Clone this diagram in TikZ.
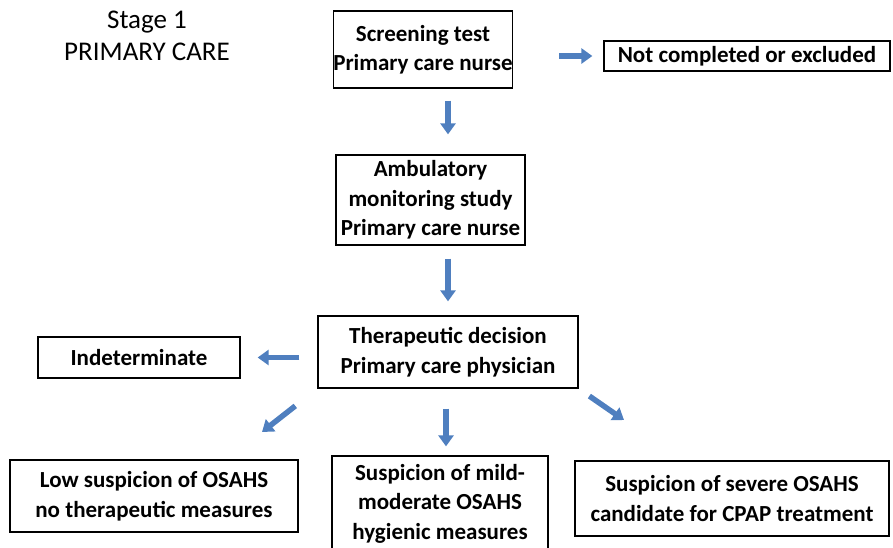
\documentclass[tikz,border=0pt]{standalone}
\usepackage{fontspec}
\setmainfont{Carlito}
\usetikzlibrary{arrows.meta}
\definecolor{arrowblue}{HTML}{4F7FBF}
\tikzset{
  stepbox/.style={draw, line width=1.3pt, align=center, inner sep=0pt, font=\bfseries\fontsize{23}{29.5}\selectfont},
  blockarrow/.style={line width=5.5pt, arrowblue, -{Triangle[width=15pt,length=11pt]}},
}
\begin{document}
\begin{tikzpicture}[x=1pt,y=-1pt]
    \useasboundingbox (0,0) rectangle (893,547);
    \node [align=center, font=\fontsize{27}{32}\selectfont] (StageLabel) at (147,36) {Stage 1\\PRIMARY CARE};
    \node [stepbox, minimum width=174pt, minimum height=77pt] (Screening)    at (423,49.5)  {Screening test\\Primary care nurse};
    \node [stepbox, minimum width=286pt, minimum height=30pt] (NotCompleted) at (747,56)    {Not completed or excluded};
    \node [stepbox, minimum width=189pt, minimum height=90pt] (Ambulatory)   at (430.5,200) {Ambulatory\\monitoring study\\Primary care nurse};
    \node [stepbox, minimum width=260pt, minimum height=72pt] (Therapeutic)  at (448,352)   {Therapeutic decision\\Primary care physician};
    \node [stepbox, minimum width=202pt, minimum height=41pt] (Indeterminate) at (139,357.5) {Indeterminate};
    \node [stepbox, minimum width=288pt, minimum height=72pt] (LowSuspicion) at (154,496)   {Low suspicion of OSAHS\\no therapeutic measures};
    \node [stepbox, minimum width=216pt, minimum height=95pt] (MildSuspicion) at (440,503.5) {Suspicion of mild-\\moderate OSAHS\\hygienic measures};
    \node [stepbox, minimum width=314pt, minimum height=75pt] (SevereSuspicion) at (732,498.5) {Suspicion of severe OSAHS\\candidate for CPAP treatment};
    \coordinate (LowEnd)    at (262,432);
    \coordinate (SevereEnd) at (624,420);
    \draw [blockarrow, shorten <=46pt, shorten >=11pt] (Screening.east |- NotCompleted) -- (NotCompleted.west);% excluded
    \draw [blockarrow, shorten <=12pt, shorten >=20pt] (Screening.south -| Therapeutic) -- (Ambulatory.north -| Therapeutic);
    \draw [blockarrow, shorten <=13pt, shorten >=14pt] (Ambulatory.south -| Therapeutic) -- (Therapeutic.north);
    \draw [blockarrow, shorten <=18pt, shorten >=17pt] (Therapeutic.west |- Indeterminate) -- (Indeterminate.east);
    \draw [blockarrow, shorten <=28pt] (Therapeutic.south west) -- (LowEnd);% low suspicion
    \draw [blockarrow, shorten <=20pt, shorten >=9pt] (Therapeutic.south -| 446,0) -- (MildSuspicion.north -| 446,0);
    \draw [blockarrow, shorten <=13pt] (Therapeutic.south east) -- (SevereEnd);% severe suspicion
\end{tikzpicture}
\end{document}
